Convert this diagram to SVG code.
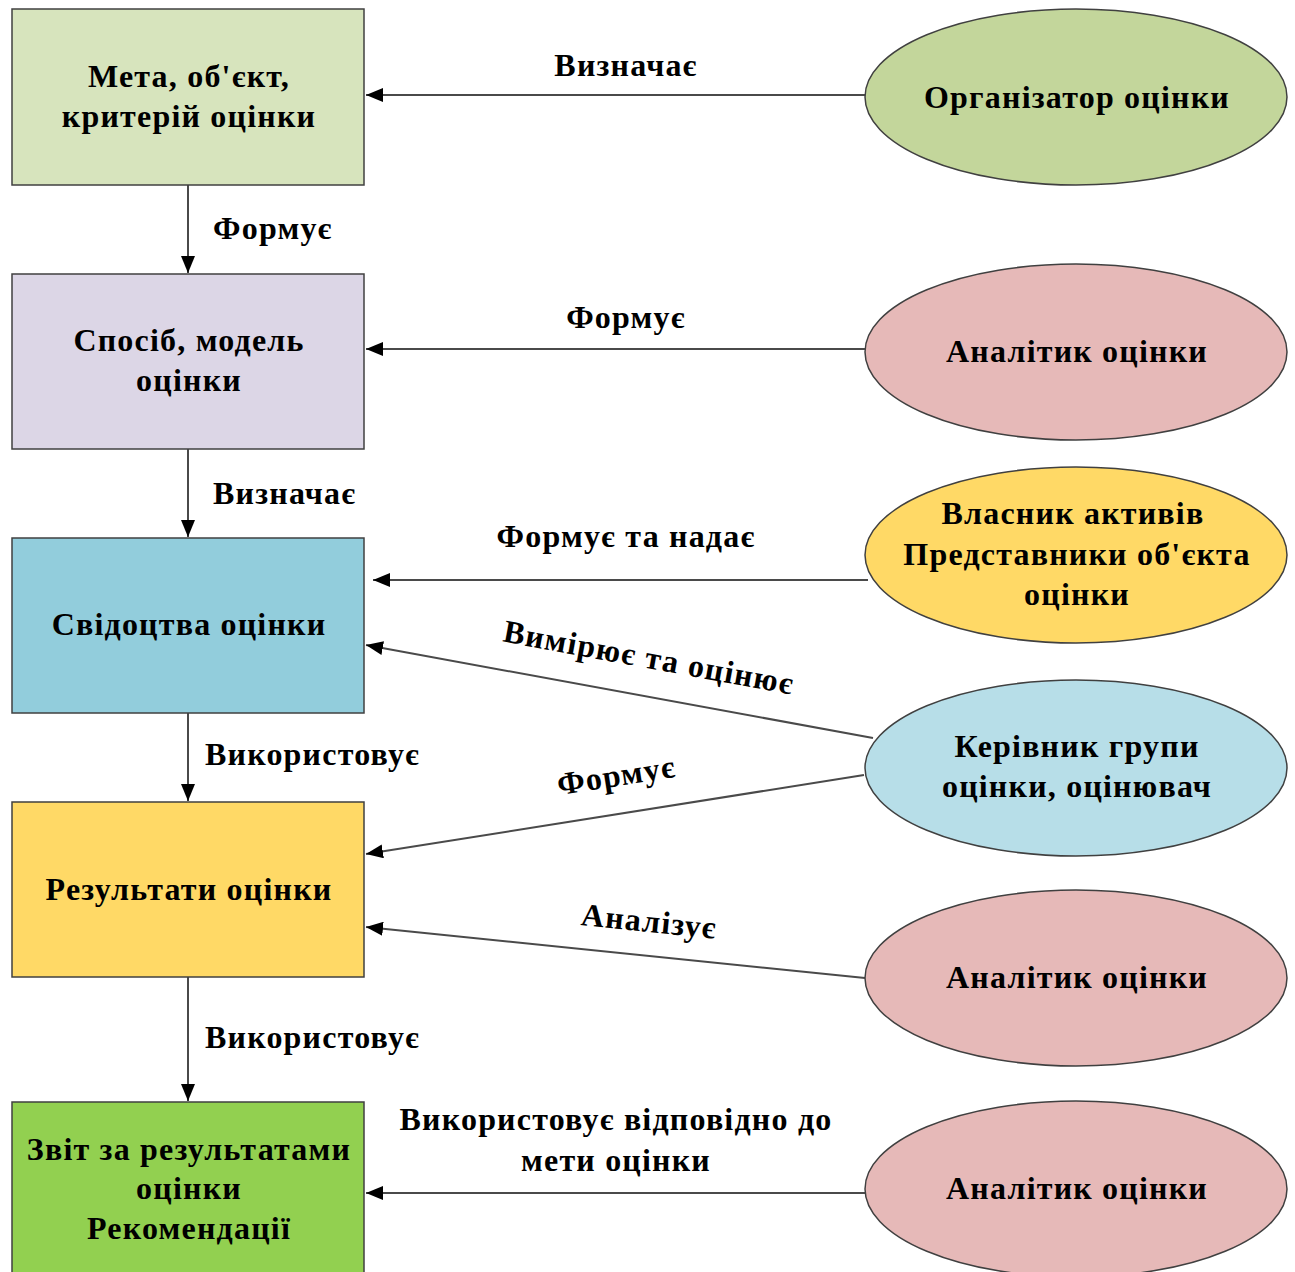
<svg xmlns="http://www.w3.org/2000/svg" width="1295" height="1272" viewBox="0 0 1295 1272">
<defs>
<marker id="arr" markerUnits="userSpaceOnUse" markerWidth="18" markerHeight="14" refX="17" refY="7" orient="auto">
<path d="M0,0 L17,7 L0,14 Z" fill="#000"/>
</marker>
<style>
.box{stroke:#404040;stroke-width:1.5}
.ell{stroke:#404040;stroke-width:1.5}
.t{font-family:"Liberation Serif","Times New Roman",serif;font-weight:bold;font-size:32px;letter-spacing:1.2px;fill:#000}
.c{text-anchor:middle}
.ln{stroke:#4a4a4a;stroke-width:2;fill:none;marker-end:url(#arr)}
</style>
</defs>
<rect width="1295" height="1272" fill="#fff"/>
<g id="connectors">
<line class="ln" x1="865" y1="95" x2="366" y2="95"/>
<line class="ln" x1="188" y1="185" x2="188" y2="273"/>
<line class="ln" x1="865" y1="349" x2="366" y2="349"/>
<line class="ln" x1="188" y1="449" x2="188" y2="537"/>
<line class="ln" x1="868" y1="580" x2="373" y2="580"/>
<line class="ln" x1="873" y1="738" x2="366" y2="645"/>
<line class="ln" x1="864" y1="775" x2="366" y2="854"/>
<line class="ln" x1="188" y1="713" x2="188" y2="801"/>
<line class="ln" x1="865" y1="978" x2="366" y2="927"/>
<line class="ln" x1="188" y1="977" x2="188" y2="1101"/>
<line class="ln" x1="865" y1="1193" x2="366" y2="1193"/>
<text class="t c" x="626" y="76">Визначає</text>
<text class="t" x="213" y="239">Формує</text>
<text class="t c" x="626" y="328">Формує</text>
<text class="t" x="213" y="504">Визначає</text>
<text class="t c" x="626" y="547">Формує та надає</text>
<text class="t c" transform="translate(647,668) rotate(10.4)">Вимірює та оцінює</text>
<text class="t" x="205" y="765">Використовує</text>
<text class="t c" transform="translate(618,786) rotate(-9)">Формує</text>
<text class="t c" transform="translate(648,932) rotate(5.8)">Аналізує</text>
<text class="t" x="205" y="1048">Використовує</text>
<text class="t c" x="616" y="1130">Використовує відповідно до</text>
<text class="t c" x="616" y="1171">мети оцінки</text>
</g>
<g id="n1"><rect class="box" x="12" y="9" width="352" height="176" fill="#d7e4bd"/>
<text class="t c" x="189" y="87">Мета, об'єкт,</text><text class="t c" x="189" y="127">критерій оцінки</text></g>
<g id="n2"><rect class="box" x="12" y="274" width="352" height="175" fill="#dcd6e6"/>
<text class="t c" x="189" y="351">Спосіб, модель</text><text class="t c" x="189" y="391">оцінки</text></g>
<g id="n3"><rect class="box" x="12" y="538" width="352" height="175" fill="#92cddc"/>
<text class="t c" x="189" y="635">Свідоцтва оцінки</text></g>
<g id="n4"><rect class="box" x="12" y="802" width="352" height="175" fill="#ffd966"/>
<text class="t c" x="189" y="900">Результати оцінки</text></g>
<g id="n5"><rect class="box" x="12" y="1102" width="352" height="180" fill="#92d050"/>
<text class="t c" x="189" y="1160">Звіт за результатами</text><text class="t c" x="189" y="1199">оцінки</text><text class="t c" x="189" y="1239">Рекомендації</text></g>
<g id="e1"><ellipse class="ell" cx="1076" cy="97" rx="211" ry="88" fill="#c3d69b"/>
<text class="t c" x="1077" y="108">Організатор оцінки</text></g>
<g id="e2"><ellipse class="ell" cx="1076" cy="352" rx="211" ry="88" fill="#e6b9b8"/>
<text class="t c" x="1077" y="362">Аналітик оцінки</text></g>
<g id="e3"><ellipse class="ell" cx="1076" cy="555" rx="211" ry="88" fill="#ffd966"/>
<text class="t c" x="1073" y="524">Власник активів</text><text class="t c" x="1077" y="565">Представники об'єкта</text><text class="t c" x="1077" y="605">оцінки</text></g>
<g id="e4"><ellipse class="ell" cx="1076" cy="768" rx="211" ry="88" fill="#b7dee8"/>
<text class="t c" x="1077" y="757">Керівник групи</text><text class="t c" x="1077" y="797">оцінки, оцінювач</text></g>
<g id="e5"><ellipse class="ell" cx="1076" cy="978" rx="211" ry="88" fill="#e6b9b8"/>
<text class="t c" x="1077" y="988">Аналітик оцінки</text></g>
<g id="e6"><ellipse class="ell" cx="1076" cy="1189" rx="211" ry="88" fill="#e6b9b8"/>
<text class="t c" x="1077" y="1199">Аналітик оцінки</text></g>
</svg>
